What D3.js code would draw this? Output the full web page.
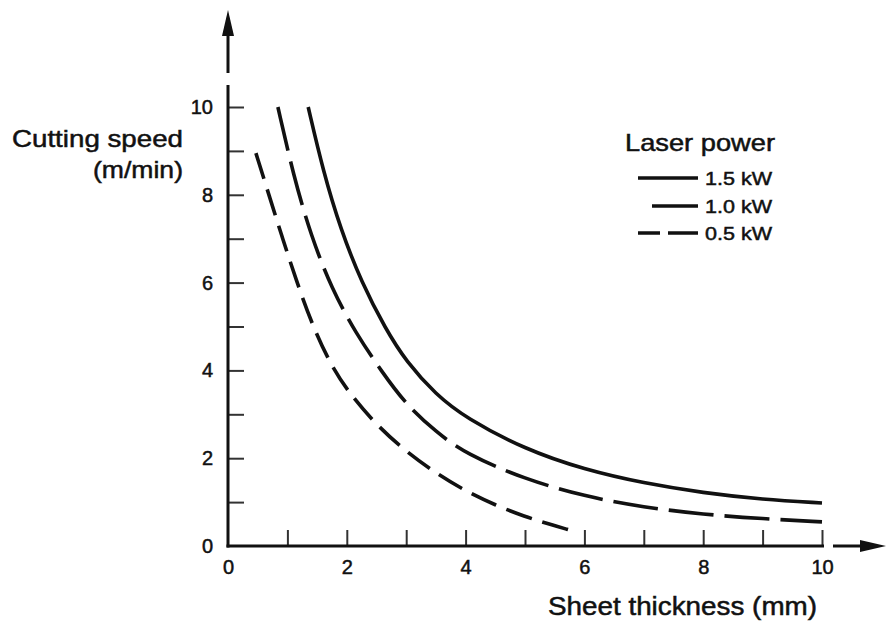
<!DOCTYPE html>
<html>
<head>
<meta charset="utf-8">
<script src="https://cdn.jsdelivr.net/npm/d3@7"></script>
<style>
  body { margin: 0; background: #fff; }
  text { font-family: "Liberation Sans", Arial, sans-serif; fill: #111; }
  .heavy { stroke: #111; stroke-width: 0.5px; }
</style>
</head>
<body>
<script>
    var width = 886,
        height = 623;

    // sheet thickness (mm) -> cutting speed (m/min)
    var x15 = [1.35, 1.6, 1.9, 2.25, 2.65, 3, 3.5, 4, 5, 6, 7, 8, 9, 10],
        y15 = [10, 8.55, 7.2, 6.0, 4.95, 4.2, 3.45, 2.92, 2.2, 1.74, 1.43, 1.21, 1.06, 0.98];
    var x10 = [0.84, 1.1, 1.4, 1.75, 2.15, 2.6, 3, 3.5, 4, 5, 6, 7, 8, 9, 10],
        y10 = [10, 8.45, 7.05, 5.85, 4.85, 3.95, 3.22, 2.6, 2.1, 1.52, 1.13, 0.88, 0.72, 0.62, 0.55];
    var x05 = [0.47, 0.7, 0.92, 1.15, 1.4, 1.7, 2, 2.5, 3, 3.5, 4, 4.5, 5, 5.4, 5.76],
        y05 = [8.95, 7.95, 7.0, 6.05, 5.1, 4.2, 3.55, 2.75, 2.15, 1.66, 1.25, 0.93, 0.67, 0.5, 0.36];

    var seriesNames = ["1.5 kW", "1.0 kW", "0.5 kW"];
    var xTicks = [1, 2, 3, 4, 5, 6, 7, 8, 9, 10];
    var yTicks = [1, 2, 3, 4, 5, 6, 7, 8, 9, 10];
    var labelTicks = [0, 2, 4, 6, 8, 10];

    var series = [
        { name: seriesNames[0], pts: d3.zip(x15, y15), dash: null },
        { name: seriesNames[1], pts: d3.zip(x10, y10), dash: "45,11" },
        { name: seriesNames[2], pts: d3.zip(x05, y05), dash: "27,11" }
    ];

    var x = d3.scaleLinear().domain([0, 10]).range([228, 822]);
    var y = d3.scaleLinear().domain([0, 10]).range([546, 107]);

    var svg = d3.select("body").append("svg")
        .attr("width", width)
        .attr("height", height);

    // tick marks (pointing into the plot)
    svg.append("g")
        .attr("transform", "translate(0," + y(0) + ")")
        .call(d3.axisBottom(x).tickValues(xTicks).tickSize(-16).tickFormat(""))
        .call(function (g) { g.select(".domain").remove(); })
        .selectAll("line").attr("stroke", "#333").attr("stroke-width", 2);

    svg.append("g")
        .attr("transform", "translate(" + x(0) + ",0)")
        .call(d3.axisLeft(y).tickValues(yTicks).tickSize(-16).tickFormat(""))
        .call(function (g) { g.select(".domain").remove(); })
        .selectAll("line").attr("stroke", "#333").attr("stroke-width", 2);

    // tick labels
    svg.append("g")
        .attr("transform", "translate(0," + y(0) + ")")
        .call(d3.axisBottom(x).tickValues(labelTicks).tickSize(0).tickPadding(14))
        .call(function (g) { g.select(".domain").remove(); })
        .selectAll("text").style("font-size", "20px").attr("fill", "#111").attr("class", "heavy");

    svg.append("g")
        .attr("transform", "translate(" + x(0) + ",0)")
        .call(d3.axisLeft(y).tickValues(labelTicks).tickSize(0).tickPadding(15))
        .call(function (g) { g.select(".domain").remove(); })
        .selectAll("text").style("font-size", "20px").attr("fill", "#111").attr("class", "heavy");

    svg.selectAll(".tick text").attr("font-family", null);

    // axis lines, broken before the arrows
    svg.append("line")
        .attr("x1", x(0)).attr("x2", x(0))
        .attr("y1", y(0) + 1.5).attr("y2", y(10) - 22)
        .attr("stroke", "#111").attr("stroke-width", 3);
    svg.append("line")
        .attr("x1", x(0)).attr("x2", x(0))
        .attr("y1", y(10) - 34).attr("y2", 30)
        .attr("stroke", "#111").attr("stroke-width", 3);
    svg.append("path")
        .attr("d", "M" + x(0) + ",10 L" + (x(0) - 6) + ",36 L" + (x(0) + 6) + ",36 Z")
        .attr("fill", "#111");

    svg.append("line")
        .attr("x1", x(0) - 1.5).attr("x2", x(10) + 2)
        .attr("y1", y(0)).attr("y2", y(0))
        .attr("stroke", "#111").attr("stroke-width", 3);
    svg.append("line")
        .attr("x1", x(10) + 11).attr("x2", 866)
        .attr("y1", y(0)).attr("y2", y(0))
        .attr("stroke", "#111").attr("stroke-width", 3);
    svg.append("path")
        .attr("d", "M886," + y(0) + " L860," + (y(0) - 6) + " L860," + (y(0) + 6) + " Z")
        .attr("fill", "#111");

    // curves
    var line = d3.line()
        .x(function (d) { return x(d[0]); })
        .y(function (d) { return y(d[1]); })
        .curve(d3.curveBasis);

    svg.selectAll(".curve")
        .data(series)
        .enter()
        .append("path")
        .attr("class", "curve")
        .attr("d", function (d) { return line(d.pts); })
        .attr("fill", "none")
        .attr("stroke", "#111")
        .attr("stroke-width", 3.6)
        .attr("stroke-dasharray", function (d) { return d.dash; });

    // axis titles (text in the picture is a bit wider than Arial)
    svg.append("text")
        .attr("class", "heavy")
        .attr("x", 12).attr("y", 147)
        .attr("textLength", 171).attr("lengthAdjust", "spacingAndGlyphs")
        .style("font-size", "24px")
        .text("Cutting speed");
    svg.append("text")
        .attr("class", "heavy")
        .attr("x", 93).attr("y", 178)
        .attr("textLength", 90).attr("lengthAdjust", "spacingAndGlyphs")
        .style("font-size", "24px")
        .text("(m/min)");
    svg.append("text")
        .attr("class", "heavy")
        .attr("x", 548).attr("y", 615)
        .attr("textLength", 269).attr("lengthAdjust", "spacingAndGlyphs")
        .style("font-size", "25px")
        .text("Sheet thickness (mm)");

    // legend
    var legend = svg.append("g");
    legend.append("text")
        .attr("class", "heavy")
        .attr("x", 625).attr("y", 151)
        .attr("textLength", 150).attr("lengthAdjust", "spacingAndGlyphs")
        .style("font-size", "24px")
        .text("Laser power");

    var rowY = [178, 206, 233],
        rowX1 = [638, 652, 638],
        rowDash = [null, null, "22,8,30"];

    var rows = legend.selectAll(".row")
        .data(series)
        .enter()
        .append("g")
        .attr("class", "row");

    rows.append("line")
        .attr("x1", function (d, i) { return rowX1[i]; })
        .attr("x2", 698)
        .attr("y1", function (d, i) { return rowY[i]; })
        .attr("y2", function (d, i) { return rowY[i]; })
        .attr("stroke", "#111")
        .attr("stroke-width", 3.6)
        .attr("stroke-dasharray", function (d, i) { return rowDash[i]; });

    rows.append("text")
        .attr("class", "heavy")
        .attr("x", 705)
        .attr("y", function (d, i) { return rowY[i] + 7; })
        .attr("textLength", 67).attr("lengthAdjust", "spacingAndGlyphs")
        .style("font-size", "19px")
        .text(function (d) { return d.name; });
</script>
</body>
</html>
